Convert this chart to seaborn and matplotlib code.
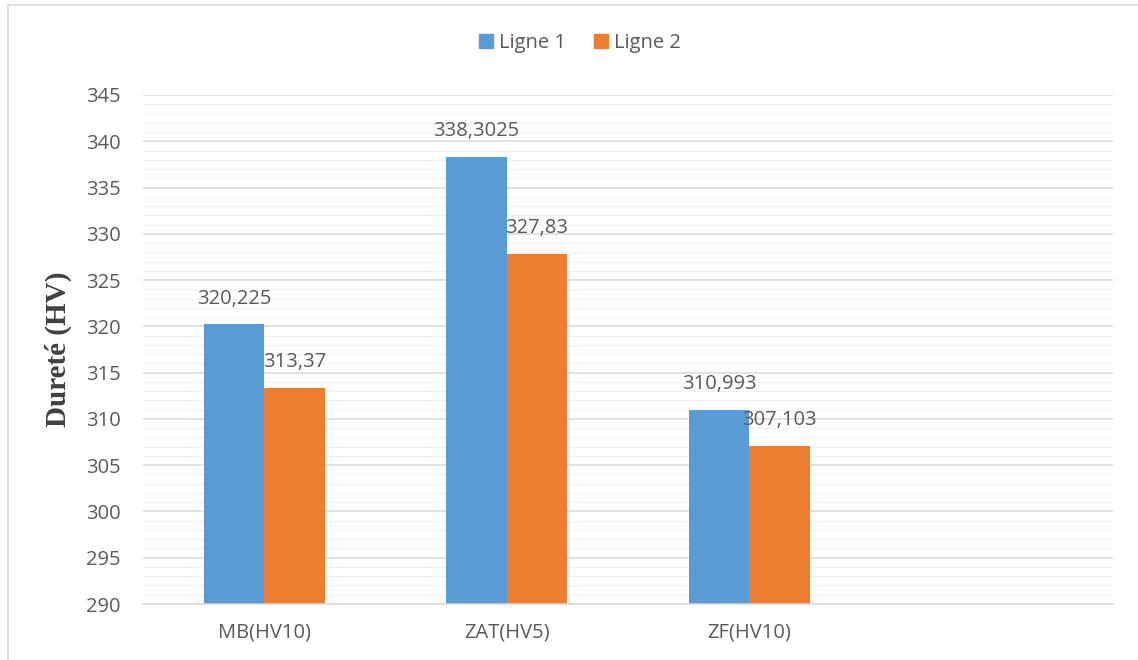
import matplotlib
matplotlib.use("Agg")
import matplotlib.pyplot as plt
from matplotlib.patches import Rectangle
from matplotlib.ticker import MultipleLocator
import pandas as pd
import seaborn as sns

categories = ["MB(HV10)", "ZAT(HV5)", "ZF(HV10)"]
ligne1 = [320.225, 338.3025, 310.993]
ligne2 = [313.37, 327.83, 307.103]
series_names = ["Ligne 1", "Ligne 2"]
label_texts = [["320,225", "338,3025", "310,993"], ["313,37", "327,83", "307,103"]]

colors = ["#5B9BD5", "#ED7D31"]
text_color = "#595959"

sns.set_theme(style="white")
plt.rcParams["font.family"] = ["Open Sans", "DejaVu Sans"]

df = pd.DataFrame({
    "cat": categories * 2,
    "val": ligne1 + ligne2,
    "serie": [series_names[0]] * 3 + [series_names[1]] * 3,
})

W, H = 1138, 660
fig = plt.figure(figsize=(W / 100, H / 100), dpi=100)
ax = fig.add_axes([143 / W, 1 - 604 / H, (1113 - 143) / W, (604 - 95) / H])

sns.barplot(data=df, x="cat", y="val", hue="serie", order=categories,
            palette=colors, width=0.5, saturation=1, ax=ax, legend=False,
            errorbar=None, linewidth=0)

# bars start from the axis floor, not from zero
ax.set_ylim(290, 345)
ax.set_xlim(-0.5, 3.5)
ax.set_xticks(range(len(categories)))
ax.set_xticklabels(categories)

ax.yaxis.set_major_locator(MultipleLocator(5))
ax.yaxis.set_minor_locator(MultipleLocator(1))
ax.grid(which="major", axis="y", color="#D9D9D9", linewidth=1.1)
ax.grid(which="minor", axis="y", color="#F2F2F2", linewidth=1.0)
ax.set_axisbelow(True)
for s in ["top", "right", "left"]:
    ax.spines[s].set_visible(False)
ax.spines["bottom"].set_color("#D9D9D9")
ax.spines["bottom"].set_linewidth(1.1)

ax.tick_params(axis="y", which="both", length=0, pad=16, labelsize=14.5, labelcolor=text_color)
ax.tick_params(axis="x", length=0, pad=13, labelsize=14.5, labelcolor=text_color)
ax.set_xlabel("")
ax.set_ylabel("Dureté (HV)", fontsize=21, fontweight="bold",
              family=["Liberation Serif", "DejaVu Serif"], color="#404040", labelpad=10)

# value labels above each bar
for container, texts in zip(ax.containers, label_texts):
    for bar, txt in zip(container, texts):
        ax.annotate(txt, (bar.get_x() + bar.get_width() / 2, bar.get_height()),
                    xytext=(0, 18.5), textcoords="offset points",
                    ha="center", va="center", fontsize=14.5, color=text_color)

handles = [Rectangle((0, 0), 1, 1, color=c) for c in colors]
fig.legend(handles, series_names, loc="center", bbox_to_anchor=(580 / W, 1 - 43 / H),
           ncol=2, frameon=False, fontsize=14.5, labelcolor=text_color,
           handlelength=0.7, handleheight=0.7, handletextpad=0.3, columnspacing=1.4)

# chart frame
fig.patches.append(Rectangle((8 / W, -0.1), 1.2, 1.1 - 5 / H, transform=fig.transFigure,
                             fill=False, edgecolor="#D9D9D9", linewidth=1.2))

fig.savefig("out.png", dpi=100, facecolor="white")
